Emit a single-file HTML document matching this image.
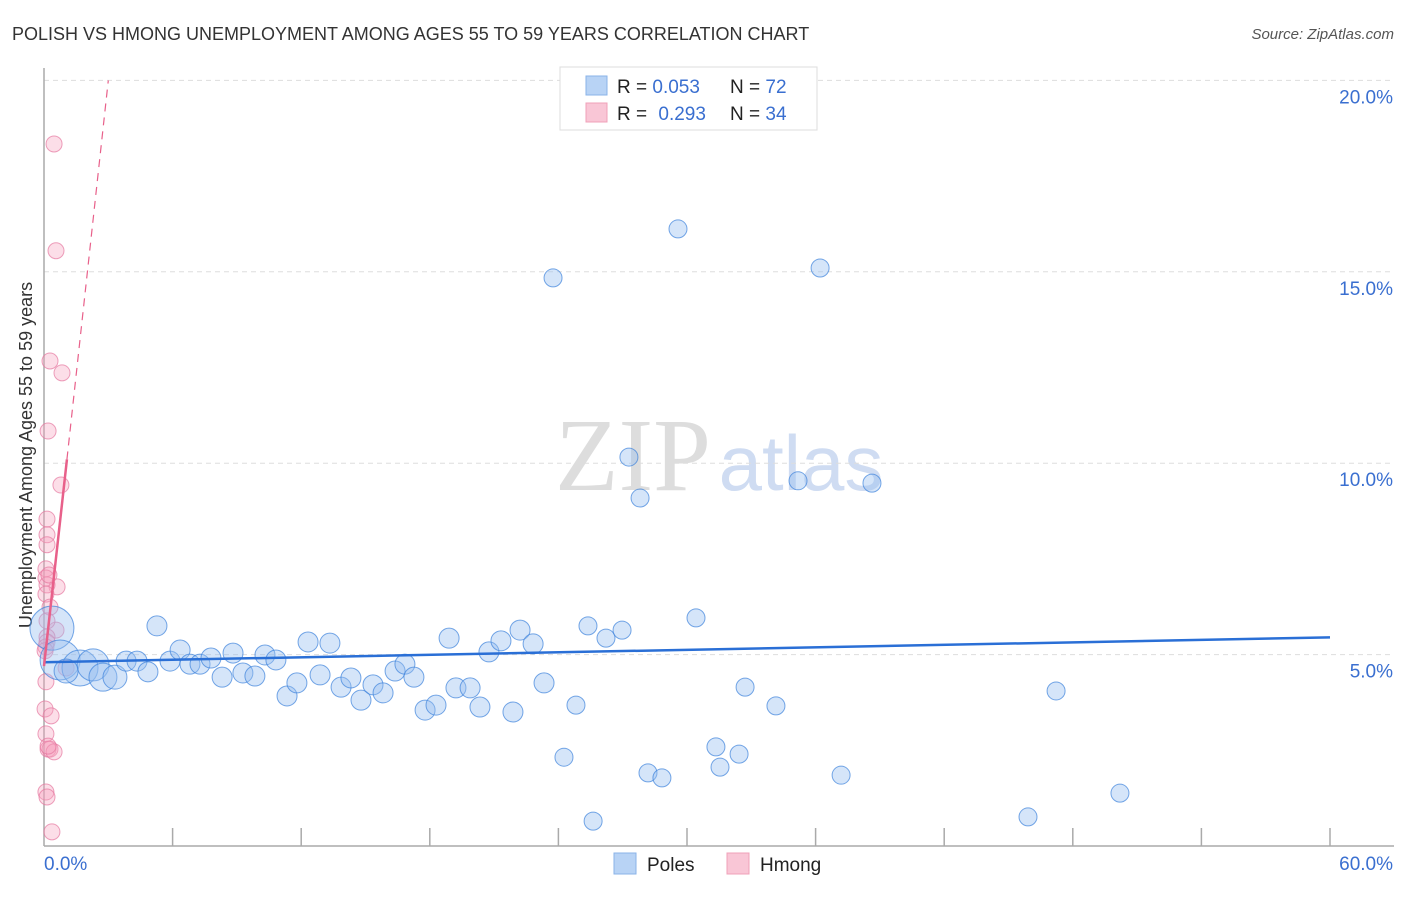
<!DOCTYPE html>
<html><head><meta charset="utf-8"><style>
body{margin:0;background:#fff;font-family:"Liberation Sans",sans-serif;}
svg text{font-family:"Liberation Sans",sans-serif;}
</style></head><body>
<svg id="chart" width="1406" height="892">
<text x="12" y="40" font-size="18" fill="#333">POLISH VS HMONG UNEMPLOYMENT AMONG AGES 55 TO 59 YEARS CORRELATION CHART</text>
<text x="1394" y="39" font-size="15" fill="#555" font-style="italic" text-anchor="end">Source: ZipAtlas.com</text>
<text x="32" y="455" font-size="18" fill="#333" text-anchor="middle" transform="rotate(-90 32 455)">Unemployment Among Ages 55 to 59 years</text>
<g>
<text x="633" y="490" font-size="104" fill="#ddd" text-anchor="middle" style="font-family:'Liberation Serif',serif">ZIP</text>
<text x="801" y="490" font-size="78" fill="#cfdcf2" text-anchor="middle">atlas</text>
</g>
<g id="grid"></g><g id="axes"></g><g id="pts"></g><g id="lines"></g>
<g>
<rect x="560" y="67" width="257" height="63" fill="#fff" stroke="#ddd"/>
<rect x="586" y="76" width="21" height="19" fill="#b8d3f5" stroke="#8ab3e8"/>
<rect x="586" y="103" width="21" height="19" fill="#f9c6d6" stroke="#f0a0b8"/>
<text x="617" y="93" font-size="19" fill="#222">R = <tspan fill="#3a6fd0">0.053</tspan></text>
<text x="730" y="93" font-size="19" fill="#222">N = <tspan fill="#3a6fd0">72</tspan></text>
<text x="617" y="120" font-size="19" fill="#222">R = <tspan fill="#3a6fd0" dx="6">0.293</tspan></text>
<text x="730" y="120" font-size="19" fill="#222">N = <tspan fill="#3a6fd0">34</tspan></text>
</g>
<g>
<rect x="614" y="853" width="22" height="21" fill="#b8d3f5" stroke="#8ab3e8"/>
<text x="647" y="871" font-size="19" fill="#222">Poles</text>
<rect x="727" y="853" width="22" height="21" fill="#f9c6d6" stroke="#f0a0b8"/>
<text x="760" y="871" font-size="19" fill="#222">Hmong</text>
</g>
</svg>
<script>
const yTicks=[5,10,15,20];
const yTickLabels=["5.0%","10.0%","15.0%","20.0%"];
const xTickLabels=["0.0%","60.0%"];
const polesX=[0.37,0.75,1.68,2.29,2.75,3.31,3.83,4.34,4.85,5.27,5.88,6.35,6.81,7.28,7.79,8.31,8.82,9.28,9.84,10.31,10.82,11.34,11.8,12.32,12.88,13.34,13.86,14.32,14.79,15.35,15.82,16.38,16.84,17.26,17.78,18.29,18.9,19.22,19.88,20.34,20.76,21.32,21.88,22.21,22.82,23.33,23.75,24.26,24.82,25.38,25.62,26.22,26.97,27.29,27.81,28.18,28.83,29.58,30.42,31.35,31.54,32.43,32.71,34.15,35.18,36.21,37.19,38.63,45.91,47.22,50.2,1.03];
const polesY=[5.69,4.86,4.65,4.73,4.41,4.41,4.83,4.83,4.55,5.75,4.83,5.12,4.75,4.75,4.91,4.41,5.04,4.52,4.44,4.99,4.86,3.92,4.26,5.33,4.47,5.3,4.15,4.39,3.81,4.21,4.0,4.57,4.75,4.41,3.55,3.68,5.43,4.13,4.13,3.63,5.07,5.36,3.5,5.64,5.28,4.26,14.84,2.32,3.68,5.75,0.65,5.43,5.64,10.16,9.09,1.91,1.78,16.12,5.96,2.59,2.06,2.4,4.15,3.66,9.54,15.1,1.85,9.48,0.76,4.05,1.38,4.57];
const polesR=[22,20,18,16,14,12,10,10,10,10,10,10,10,10,10,10,10,10,10,10,10,10,10,10,10,10,10,10,10,10,10,10,10,10,10,10,10,10,10,10,10,10,10,10,10,10,9,9,9,9,9,9,9,9,9,9,9,9,9,9,9,9,9,9,9,9,9,9,9,9,9,12];
const hmongX=[0.47,0.56,0.28,0.84,0.19,0.79,0.14,0.14,0.14,0.09,0.61,0.09,0.14,0.09,0.28,0.56,0.14,0.14,0.09,0.05,1.03,0.05,0.33,0.09,0.19,0.28,0.47,0.09,0.14,0.37,0.14,0.23,0.09,0.19];
const hmongY=[18.34,15.55,12.67,12.36,10.84,9.43,8.54,8.13,7.87,7.24,6.77,7.0,6.82,6.58,6.24,5.64,5.46,5.33,5.2,5.1,4.65,3.58,3.4,2.93,2.53,2.53,2.46,1.41,1.28,0.37,5.88,7.08,4.29,2.61];
const x0=44,x1=1330,y0=846,pxPer5=191.4;
const X=v=>x0+(x1-x0)*v/60;
const Y=v=>y0-pxPer5*v/5;
const NS="http://www.w3.org/2000/svg";
function mk(tag,attrs,parent){const e=document.createElementNS(NS,tag);for(const k in attrs)e.setAttribute(k,attrs[k]);parent.appendChild(e);return e;}
const grid=document.getElementById('grid'),axes=document.getElementById('axes'),pts=document.getElementById('pts'),lines=document.getElementById('lines');
yTicks.forEach((t,i)=>{
 const l=mk('line',{x1:x0,x2:1394,y1:Y(t),y2:Y(t),stroke:'#ddd','stroke-dasharray':'5,4'},grid);
 
 
 const tx=mk('text',{x:1393,y:Y(t)+23,'font-size':19,fill:'#3a6fd0','text-anchor':'end'},axes);
 tx.textContent=yTickLabels[i];
 
 
});
const ya=mk('line',{x1:x0,x2:x0,y1:68,y2:y0,stroke:'#aaa','stroke-width':1.5},axes);


const xa=mk('line',{x1:x0,x2:1394,y1:y0,y2:y0,stroke:'#aaa','stroke-width':1.5},axes);


for(let i=1;i<=10;i++){
 const t=mk('line',{x1:X(i*6),x2:X(i*6),y1:y0-18,y2:y0,stroke:'#aaa','stroke-width':1.5},axes);
 
 
}
const xl0=mk('text',{x:44,y:870,'font-size':19,fill:'#3a6fd0'},axes);xl0.textContent=xTickLabels[0];


const xl1=mk('text',{x:1393,y:870,'font-size':19,fill:'#3a6fd0','text-anchor':'end'},axes);xl1.textContent=xTickLabels[1];


hmongX.forEach((v,i)=>{
 const c=mk('circle',{cx:X(v),cy:Y(hmongY[i]),r:8,fill:'rgba(245,160,190,0.35)',stroke:'rgba(230,120,160,0.7)','stroke-width':1},pts);
 
 
});
polesX.forEach((v,i)=>{
 const c=mk('circle',{cx:X(v),cy:Y(polesY[i]),r:polesR[i],fill:'rgba(150,190,240,0.4)',stroke:'rgba(60,130,220,0.7)','stroke-width':1},pts);
 
 
});
const bt=mk('line',{x1:X(0),y1:Y(4.8),x2:X(60),y2:Y(5.45),stroke:'#2a6fd6','stroke-width':2.5},lines);


const ps=mk('line',{x1:X(0),y1:Y(4.7),x2:X(1.07),y2:Y(10.1),stroke:'#e8608a','stroke-width':2.5},lines);


const pd=mk('line',{x1:X(1.07),y1:Y(10.1),x2:X(3.0),y2:Y(20.0),stroke:'#e8608a','stroke-width':1.2,'stroke-dasharray':'8,6'},lines);


</script>
</body></html>
